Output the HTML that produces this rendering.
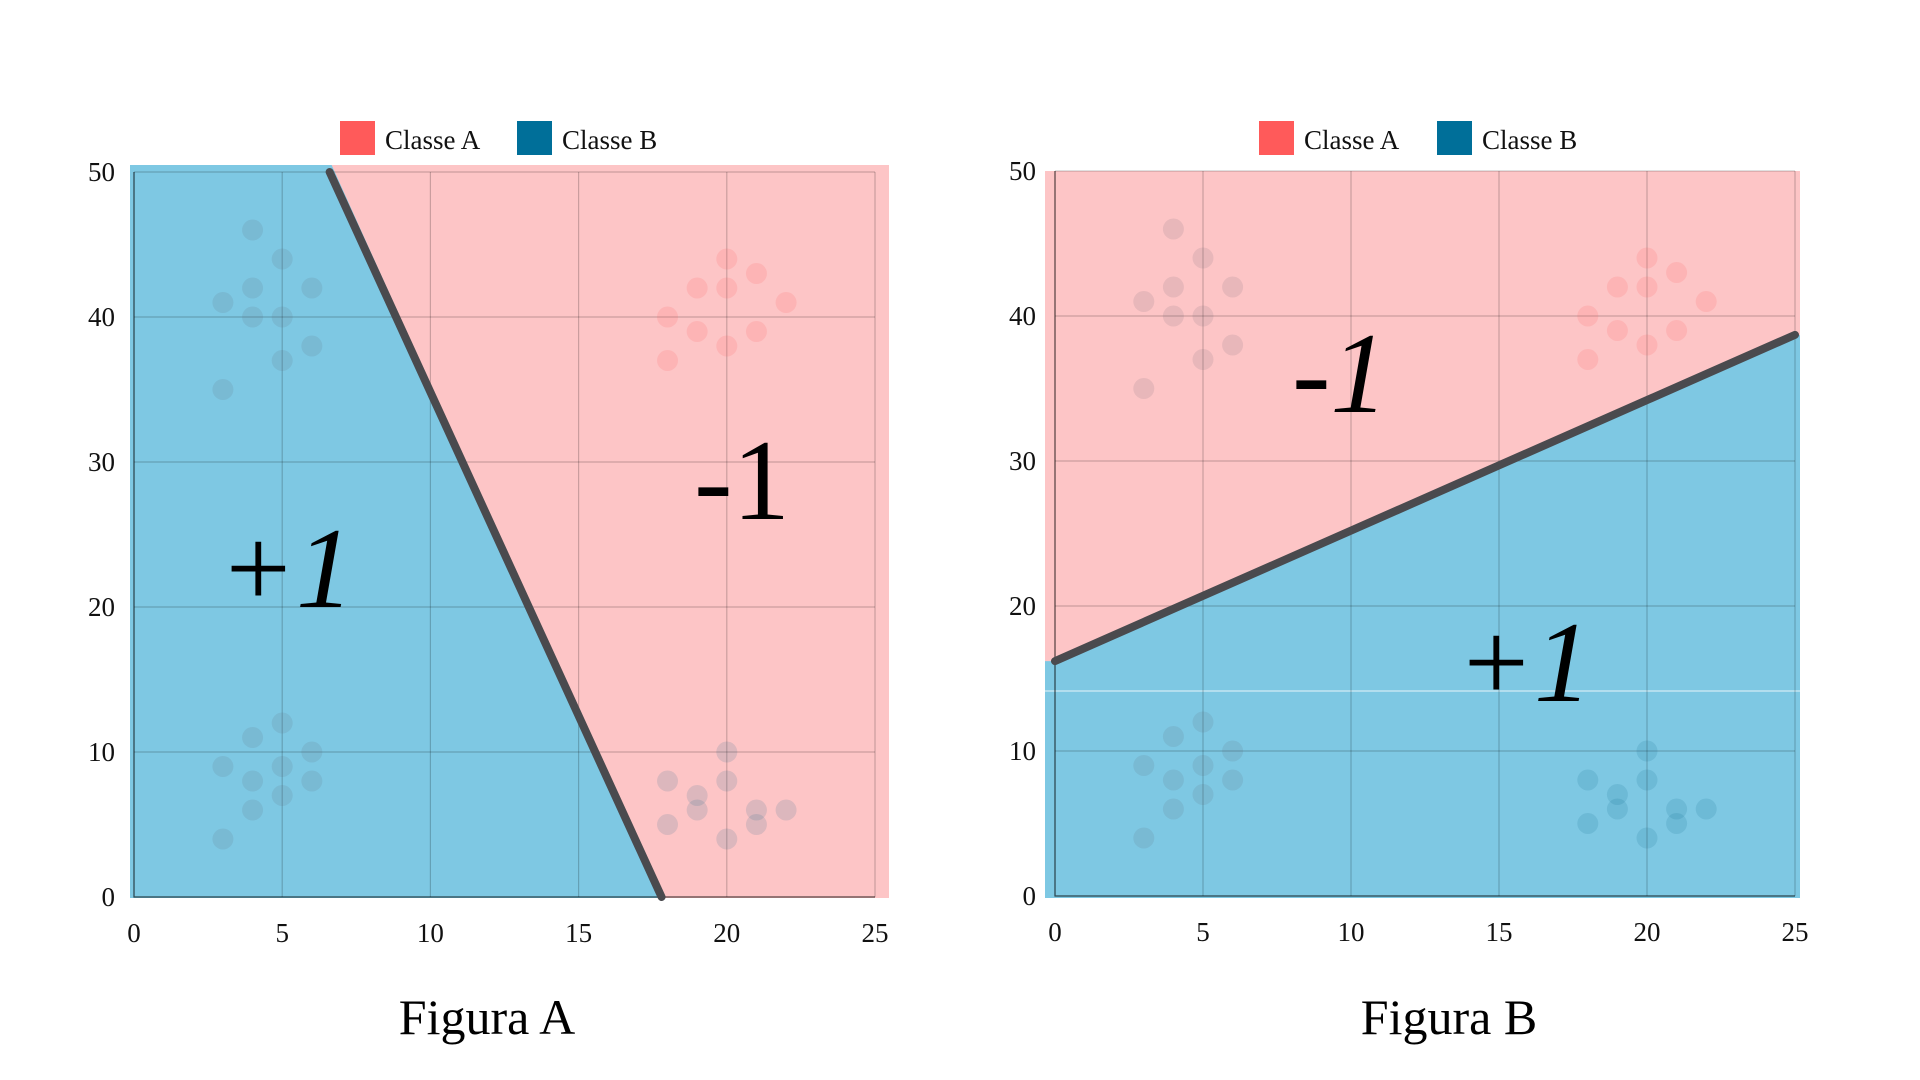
<!DOCTYPE html>
<html><head><meta charset="utf-8"><style>
body{margin:0;background:#fff;width:1920px;height:1080px;overflow:hidden}
svg{display:block}
text{font-family:"Liberation Serif",serif}
</style></head><body>
<svg id="root" width="1920" height="1080"></svg>
<script>
const xTicks=[0,5,10,15,20,25];
const yTicks=[0,10,20,30,40,50];
const gxTL=[4,5,4,6,3,4,5,6,5,3], gyTL=[46,44,42,42,41,40,40,38,37,35];
const gxTR=[20,21,19,20,22,18,19,21,20,18], gyTR=[44,43,42,42,41,40,39,39,38,37];
const gxBL=[5,4,6,3,5,4,6,5,4,3], gyBL=[12,11,10,9,9,8,8,7,6,4];
const gxBR=[20,18,20,19,19,21,22,18,21,20], gyBR=[10,8,8,7,6,6,6,5,5,4];
const lineA=[[6.6,50],[17.8,0]];
const lineB=[[0,16.2],[25,38.7]];
const NS="http://www.w3.org/2000/svg";
const root=document.getElementById('root');
function mk(tag,attrs,parent){const e=document.createElementNS(NS,tag);for(const k in attrs)e.setAttribute(k,attrs[k]);parent.appendChild(e);return e;}
const BLUE="#7ec8e3",PINK="#fdc5c6";
const panels=[
 {id:'a',x0:134,x1:875,y0:897,y1:172,fill:[130,165,889,898],line:lineA,title:'Figura A',tx:487,leg:[340,517],
  labels:[{t:'+1',x:286,y:607,it:true},{t:'-1',x:742,y:519,it:false}]},
 {id:'b',x0:1055,x1:1795,y0:896,y1:171,fill:[1045,171,1800,898],line:lineB,title:'Figura B',tx:1449,leg:[1259,1437],
  labels:[{t:'-1',x:1340,y:412,it:true},{t:'+1',x:1524,y:701,it:true}]}
];
panels.forEach(p=>{
 const g=mk('g',{},root);
 
 
 const sx=v=>p.x0+(p.x1-p.x0)*v/25, sy=v=>p.y0+(p.y1-p.y0)*v/50;
 const [fx0,fy0,fx1,fy1]=p.fill;
 const fyTop=p.id==='a'?165:171;
 const bg=mk('rect',{x:fx0,y:fyTop,width:fx1-fx0,height:fy1-fyTop,fill:p.id==='a'?PINK:BLUE},g);
 
 // polygon for other region
 const [a,b]=p.line;
 let poly;
 if(p.id==='a'){
   poly=[[fx0,fyTop],[sx(a[0])+2,fyTop],[sx(b[0]),fy1],[fx0,fy1]];
   var col=BLUE;
 } else {
   poly=[[fx0,fyTop],[fx1,fyTop],[fx1,sy(b[1])],[sx(a[0]),sy(a[1])],[fx0,sy(a[1])]];
   var col=PINK;
 }
 const rg=mk('polygon',{points:poly.map(q=>q.join(',')).join(' '),fill:col},g);
 
 if(p.id==='b'){const wl=mk('line',{x1:fx0,x2:fx1,y1:691,y2:691,stroke:'#fff','stroke-width':1,opacity:0.8},g);
  }
 // grid
 xTicks.forEach(t=>{const l=mk('line',{x1:sx(t),x2:sx(t),y1:sy(50),y2:sy(0),stroke:'rgba(0,0,0,0.2)','stroke-width':1.2},g);
  
  const tx=mk('text',{x:sx(t),y:p.y0+45,'font-size':27,'text-anchor':'middle',fill:'#111'},g);tx.textContent=t;
  });
 yTicks.forEach(t=>{const l=mk('line',{x1:sx(0),x2:sx(25),y1:sy(t),y2:sy(t),stroke:'rgba(0,0,0,0.2)','stroke-width':1.2},g);
  
  const tx=mk('text',{x:sx(0)-19,y:sy(t)+9,'font-size':27,'text-anchor':'end',fill:'#111'},g);tx.textContent=t;
  });
 const ax=mk('path',{d:`M${sx(0)},${sy(50)}V${sy(0)}H${sx(25)}`,stroke:'rgba(0,0,0,0.45)','stroke-width':1.5,fill:'none'},g);
 
 // points
 [[gxTL,gyTL,'rgba(90,90,110,0.13)'],[gxTR,gyTR,'rgba(255,90,90,0.15)'],[gxBL,gyBL,'rgba(90,90,110,0.13)'],[gxBR,gyBR,'rgba(0,90,130,0.13)']].forEach(([xs,ys,c])=>{
  xs.forEach((v,i)=>{const d=mk('circle',{cx:sx(v),cy:sy(ys[i]),r:10.5,fill:c},g);
   });
 });
 const dl=mk('line',{x1:sx(a[0]),y1:sy(a[1]),x2:sx(b[0]),y2:sy(b[1]),stroke:'#4a4a4e','stroke-width':8,'stroke-linecap':'round'},g);
 
 p.labels.forEach(L=>{const t=mk('text',{x:L.x,y:L.y,'font-size':115,'text-anchor':'middle','font-style':L.it?'italic':'normal',fill:'#000'},g);
  t.textContent=L.t;});
 // legend
 [['Classe A','#ff5a5a'],['Classe B','#006f99']].forEach(([n,c],i)=>{
  const lg=mk('g',{},g);
  mk('rect',{x:p.leg[i],y:121,width:35,height:34,fill:c},lg);
  const t=mk('text',{x:p.leg[i]+45,y:149,'font-size':27,fill:'#111'},lg);t.textContent=n;
 });
 const tt=mk('text',{x:p.tx,y:1034,'font-size':50,'text-anchor':'middle',fill:'#000'},g);tt.textContent=p.title;
 
});
</script>
</body></html>
